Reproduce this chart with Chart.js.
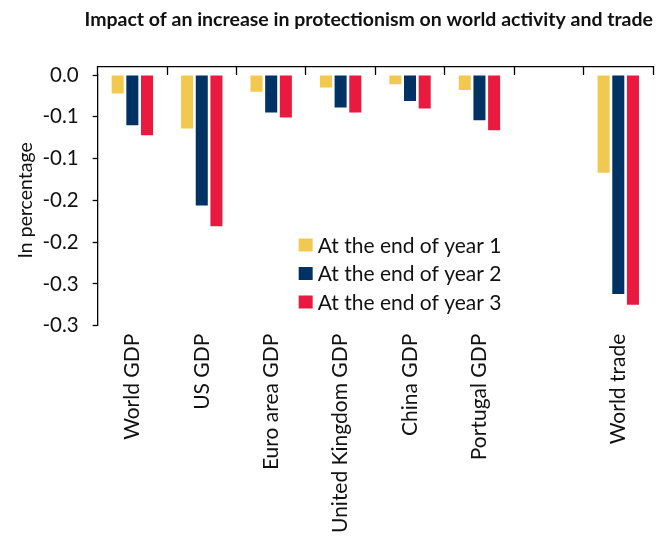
<!DOCTYPE html>
<html>
<head>
<meta charset="utf-8">
<script src="https://cdn.jsdelivr.net/npm/chart.js@4.4.1/dist/chart.umd.min.js"></script>
<style>
  html, body { margin: 0; padding: 0; background: #fff; }
  #wrap { width: 672px; height: 560px; }
</style>
</head>
<body>
<div id="wrap"><canvas id="protectionChart" width="672" height="560"></canvas></div>
<script>
// Categories (the empty one leaves the gap before World trade)
const categories = ['World GDP', 'US GDP', 'Euro area GDP', 'United Kingdom GDP', 'China GDP', 'Portugal GDP', '', 'World trade'];
// Series names
const seriesNames = ['At the end of year 1', 'At the end of year 2', 'At the end of year 3'];
// Values in percentage
const year1 = [-0.022, -0.064, -0.020, -0.015, -0.011, -0.018, null, -0.117];
const year2 = [-0.060, -0.156, -0.045, -0.039, -0.031, -0.054, null, -0.262];
const year3 = [-0.072, -0.181, -0.051, -0.045, -0.040, -0.066, null, -0.275];
// Y tick labels, bottom to top (Excel rounding of -0.30 ... 0.00 by 0.05)
const yTickLabels = ['-0.3', '-0.3', '-0.2', '-0.2', '-0.1', '-0.1', '0.0'];

const colours = ['#F2C94F', '#003263', '#E9193F'];
const fontFamily = 'Lato, "Noto Sans", sans-serif';

// Legend drawn inside the plot area
const innerLegend = {
    id: 'innerLegend',
    afterDatasetsDraw(chart) {
        const { ctx, chartArea } = chart;
        const x = chartArea.left + chartArea.width * 0.362;
        const y0 = chartArea.top + chartArea.height * 0.678;
        const rowGap = 28.5;
        ctx.save();
        ctx.font = '21px ' + fontFamily;
        ctx.textBaseline = 'middle';
        chart.data.datasets.forEach((ds, i) => {
            const y = y0 + i * rowGap;
            ctx.fillStyle = ds.backgroundColor;
            ctx.fillRect(x, y - 6.5, 14, 13);
            ctx.fillStyle = '#111';
            ctx.fillText(ds.label, x + 19, y + 1);
        });
        ctx.restore();
    }
};

const ctx = document.getElementById('protectionChart').getContext('2d');
new Chart(ctx, {
    type: 'bar',
    data: {
        labels: categories,
        datasets: seriesNames.map((name, i) => ({
            label: name,
            data: [year1, year2, year3][i],
            backgroundColor: colours[i],
            borderWidth: 0,
            categoryPercentage: 0.634,
            barPercentage: 0.82
        }))
    },
    options: {
        responsive: false,
        animation: false,
        devicePixelRatio: 1,
        layout: { padding: { left: 1, right: 19, top: 0, bottom: 3 } },
        plugins: {
            legend: { display: false },
            tooltip: { enabled: false },
            title: {
                display: true,
                text: 'Impact of an increase in protectionism on world activity and trade',
                align: 'end',
                color: '#111',
                font: { family: fontFamily, size: 19.5, weight: 'bold' },
                padding: { top: 8, bottom: 43.6 }
            }
        },
        scales: {
            x: {
                position: 'bottom',
                offset: true,
                grid: { display: false, drawTicks: false, offset: true },
                border: { display: false },
                ticks: {
                    minRotation: 90,
                    maxRotation: 90,
                    autoSkip: false,
                    padding: 16,
                    color: '#111',
                    font: { family: fontFamily, size: 21 }
                }
            },
            xTop: {
                type: 'category',
                position: 'top',
                offset: true,
                grid: { drawOnChartArea: false, offset: true, tickLength: -8, color: '#000', tickWidth: 1.3 },
                border: { display: true, color: '#000', width: 1.3 },
                ticks: { display: false }
            },
            y: {
                min: -0.3,
                max: 0,
                ticks: {
                    stepSize: 0.05,
                    padding: 14,
                    color: '#111',
                    font: { family: fontFamily, size: 20.5 },
                    callback: (value, index) => yTickLabels[index]
                },
                grid: { drawOnChartArea: false, tickLength: 5, tickColor: '#000', tickWidth: 1.3 },
                border: { display: true, color: '#000', width: 1.3 },
                title: {
                    display: true,
                    text: 'In percentage',
                    color: '#111',
                    font: { family: fontFamily, size: 19.5 },
                    padding: { top: 13, bottom: -9 }
                }
            }
        }
    },
    plugins: [innerLegend]
});
</script>
</body>
</html>
